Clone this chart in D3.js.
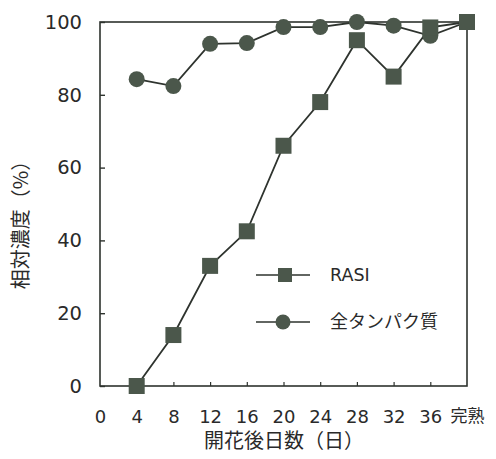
<!DOCTYPE html>
<html><head><meta charset="utf-8">
<script src="https://cdn.jsdelivr.net/npm/d3@7"></script>
<style>body{margin:0;background:#fff}</style>
</head><body>
<svg id="c" width="496" height="459"></svg>
<script>
const days = [4, 8, 12, 16, 20, 24, 28, 32, 36, 40];
const xTickValues = [0, 4, 8, 12, 16, 20, 24, 28, 32, 36, 40];
const xTickLabels = ["0", "4", "8", "12", "16", "20", "24", "28", "32", "36", "完熟"];
const yTickValues = [0, 20, 40, 60, 80, 100];
const rasi = [0, 14, 33, 42.5, 66, 78, 95, 85, 98.5, 100];
const protein = [84.3, 82.4, 94, 94.2, 98.6, 98.6, 100, 99, 96.2, 100];
const seriesNames = ["RASI", "全タンパク質"];

const svg = d3.select("#c");
const L = 100, R = 467, T = 22, B = 386;
const x = d3.scaleLinear().domain([0, 40]).range([L, R]);
const y = d3.scaleLinear().domain([0, 100]).range([B, T]);
const ink = "#2e332e", fill = "#4b574b";
const font = "'DejaVu Sans', 'Noto Sans CJK JP', sans-serif";
const cjk = "'Noto Sans CJK JP', sans-serif";

// frame
svg.append("rect").attr("x", L).attr("y", T).attr("width", R - L).attr("height", B - T)
  .attr("fill", "none").attr("stroke", ink).attr("stroke-width", 1.6);

// y axis
const ya = svg.append("g").attr("transform", `translate(${L},0)`)
  .call(d3.axisLeft(y).tickValues(yTickValues).tickSize(-5).tickPadding(18).tickFormat(d3.format("d")));
ya.select(".domain").remove();
ya.selectAll("line").attr("stroke", ink).attr("stroke-width", 1.4);
ya.selectAll("text").attr("font-family", font).attr("font-size", 19.5).attr("fill", "#2a2a2a");

// x axis
const xa = svg.append("g").attr("transform", `translate(0,${B})`)
  .call(d3.axisBottom(x).tickValues(xTickValues).tickSize(-4).tickPadding(24)
    .tickFormat((d, i) => xTickLabels[i]));
xa.select(".domain").remove();
xa.selectAll("line").attr("stroke", ink).attr("stroke-width", 1.2)
  .filter(d => d === 0 || d === 40).remove();
xa.selectAll("text").attr("font-family", (d, i) => i === 10 ? cjk : font)
  .attr("font-size", (d, i) => i === 10 ? 17 : 18).attr("fill", "#2a2a2a");

// axis titles
svg.append("text").attr("transform", "translate(28,220) rotate(-90)")
  .attr("text-anchor", "middle").attr("font-family", cjk).attr("font-size", 20).attr("fill", "#2a2a2a")
  .text("相対濃度（%）");
svg.append("text").attr("x", 284).attr("y", 448)
  .attr("text-anchor", "middle").attr("font-family", cjk).attr("font-size", 20).attr("fill", "#2a2a2a")
  .text("開花後日数（日）");

const line = d3.line().x(d => x(d[0])).y(d => y(d[1]));
const pData = days.map((d, i) => [d, protein[i]]);
const rData = days.map((d, i) => [d, rasi[i]]);

svg.append("path").datum(pData).attr("d", line).attr("fill", "none").attr("stroke", ink).attr("stroke-width", 1.8);
svg.append("path").datum(rData).attr("d", line).attr("fill", "none").attr("stroke", ink).attr("stroke-width", 1.8);

svg.selectAll(".pc").data(pData).join("circle").attr("cx", d => x(d[0])).attr("cy", d => y(d[1]))
  .attr("r", 8).attr("fill", fill);
svg.selectAll(".rs").data(rData).join("rect").attr("x", d => x(d[0]) - 8).attr("y", d => y(d[1]) - 8)
  .attr("width", 16).attr("height", 16).attr("fill", fill);

// legend
const lg = [{ y: 275, name: seriesNames[0], m: "sq" }, { y: 322, name: seriesNames[1], m: "ci" }];
lg.forEach(e => {
  svg.append("line").attr("x1", 256).attr("x2", 310).attr("y1", e.y).attr("y2", e.y)
    .attr("stroke", ink).attr("stroke-width", 1.6);
  if (e.m === "sq") svg.append("rect").attr("x", 278).attr("y", e.y - 7).attr("width", 14).attr("height", 14).attr("fill", fill);
  else svg.append("circle").attr("cx", 283).attr("cy", e.y).attr("r", 7.5).attr("fill", fill);
  svg.append("text").attr("x", 330).attr("y", e.y).attr("dy", "0.36em")
    .attr("font-family", e.m === "sq" ? font : cjk).attr("font-size", e.m === "sq" ? 17.5 : 18)
    .attr("fill", "#2a2a2a").text(e.name);
});
</script>
</body></html>
